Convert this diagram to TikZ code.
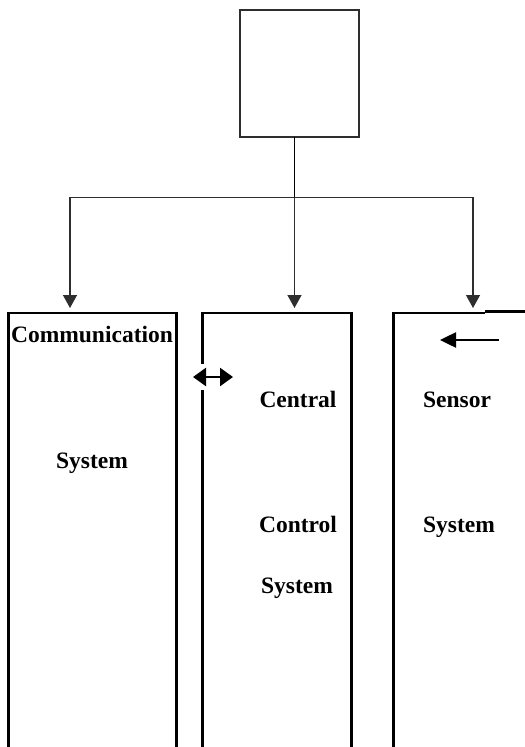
\documentclass[tikz,border=0pt]{standalone}
\usepackage{fontspec}
\setmainfont{Liberation Serif}
\usetikzlibrary{arrows.meta}
\definecolor{thin}{HTML}{2E2E2E}
\tikzset{
  topbox/.style={draw=thin, line width=1.3bp, minimum width=119bp, minimum height=127bp, inner sep=0pt, outer sep=0pt},
  conn/.style={draw=thin, line width=1.3bp, -{Triangle[width=14bp,length=13bp]}},
  colline/.style={draw=black, line width=2.7bp, line join=miter},
  lbl/.style={font=\fontsize{23.5bp}{26bp}\selectfont\bfseries, anchor=base, inner sep=0pt},
  dblarrow/.style={draw=black, line width=2.5bp, {Triangle[width=18bp,length=13bp]}-{Triangle[width=18bp,length=13bp]}},
  sarrow/.style={draw=black, line width=2.5bp, -{Triangle[width=15bp,length=16bp]}}
}
\begin{document}
\begin{tikzpicture}[x=1bp,y=-1bp]
\useasboundingbox[fill=white] (0,0) rectangle (525,747);
% top box
\node[topbox] (top) at (299.5,73.5) {};
% junction and connector ends
\coordinate (j) at (294.5,197.5);
\coordinate (a1) at (70,308);
\coordinate (a2) at (294.5,308);
\coordinate (a3) at (473,308);
\draw[thin, line width=1.3bp] (top.south -| j) -- (j);
\draw[conn] (j) -| (a1);
\draw[conn] (j) -- (a2);
\draw[conn] (j) -| (a3);
% column boxes
\draw[colline] (8.3,747) -- (8.3,313) -- (176.7,313) -- (176.7,747);
\draw[colline] (202.3,364) -- (202.3,313) -- (351.7,313) -- (351.7,747);
\draw[colline] (202.3,390) -- (202.3,747);
\draw[colline] (393.7,747) -- (393.7,313) -- (485,313);
\draw[colline] (485,311.5) -- (525,311.5);
% arrows
\coordinate (d1) at (193,377);
\coordinate (d2) at (233,377);
\draw[dblarrow] (d1) -- (d2);
\coordinate (s1) at (499,340);
\coordinate (s2) at (440,340);
\draw[sarrow] (s1) -- (s2);
% labels
\node[lbl] (comm) at (92,342.5) {Communication};
\node[lbl] (commsys) at (92,468.5) {System};
\node[lbl] (central) at (298,407.5) {Central};
\node[lbl] (control) at (298,532) {Control};
\node[lbl] (ctrlsys) at (297,593.5) {System};
\node[lbl] (sensor) at (457,407.5) {Sensor};
\node[lbl] (sensys) at (459,532.5) {System};
\end{tikzpicture}
\end{document}
